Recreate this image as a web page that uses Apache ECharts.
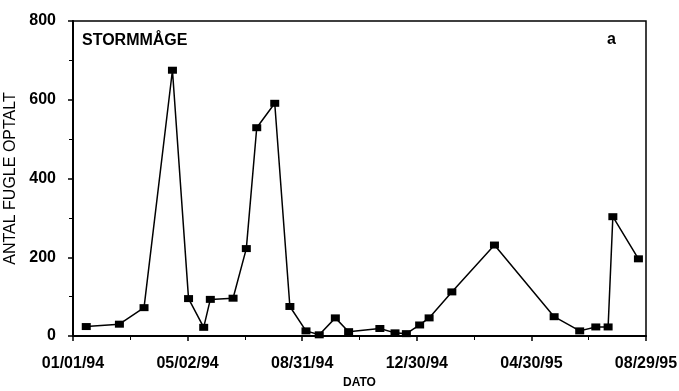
<!DOCTYPE html>
<html>
<head>
<meta charset="utf-8">
<script src="https://cdn.jsdelivr.net/npm/echarts@6/dist/echarts.min.js"></script>
<style>
html,body{margin:0;padding:0;background:#fff;}
#c{width:679px;height:391px;}
</style>
</head>
<body>
<div id="c"></div>
<script>
// Data
const dates = [
  '1994-01-15','1994-02-19','1994-03-17','1994-04-16','1994-05-03','1994-05-19','1994-05-26',
  '1994-06-19','1994-07-03','1994-07-14','1994-08-02','1994-08-18','1994-09-04','1994-09-18',
  '1994-10-05','1994-10-19','1994-11-21','1994-12-07','1994-12-19','1995-01-02','1995-01-12',
  '1995-02-05','1995-03-22','1995-05-24','1995-06-20','1995-07-07','1995-07-20','1995-07-25',
  '1995-08-21'
];
const counts = [
  24, 30, 72, 675, 95, 22, 93,
  96, 222, 529, 591, 75, 13, 3,
  46, 11, 19, 8, 6, 28, 46,
  112, 231, 49, 13, 23, 23, 303,
  196
];
const xTickLabels = ['01/01/94','05/02/94','08/31/94','12/30/94','04/30/95','08/29/95'];
const yTicks = [0, 200, 400, 600, 800];
const titleText = 'STORMMÅGE';
const panelLetter = 'a';
const xName = 'DATO';
const yName = 'ANTAL FUGLE OPTALT';

const startMs = Date.UTC(1994, 0, 1);
const DAY = 86400000;
function dayOffset(s) {
  const p = s.split('-').map(Number);
  return Math.round((Date.UTC(p[0], p[1] - 1, p[2]) - startMs) / DAY);
}
const tickStep = 121;
const seriesData = dates.map((d, i) => [dayOffset(d), counts[i]]);

const FONT = "'Liberation Sans', Arial, Helvetica, sans-serif";
const chart = echarts.init(document.getElementById('c'), null, {renderer: 'canvas'});
chart.setOption({
  animation: false,
  backgroundColor: '#fff',
  grid: {left: 73, right: 33, top: 21, bottom: 55, containLabel: false, outerBoundsMode: 'none',
         show: true, borderColor: '#000', borderWidth: 1.5},
  xAxis: {
    type: 'value',
    min: 0,
    max: tickStep * (xTickLabels.length - 1),
    interval: tickStep,
    name: xName,
    nameLocation: 'middle',
    nameGap: 40,
    nameTextStyle: {color: '#000', fontFamily: FONT, fontSize: 12, fontWeight: 'bold'},
    axisLine: {lineStyle: {color: '#000', width: 2}},
    axisTick: {show: true, length: 5, lineStyle: {color: '#000', width: 1.5}},
    minorTick: {show: true, splitNumber: 2, length: 4, lineStyle: {color: '#000', width: 1}},
    splitLine: {show: false},
    axisLabel: {
      color: '#000', fontFamily: FONT, fontSize: 16, fontWeight: 'bold', margin: 20,
      formatter: v => xTickLabels[Math.round(v / tickStep)] || ''
    }
  },
  yAxis: {
    type: 'value',
    min: yTicks[0],
    max: yTicks[yTicks.length - 1],
    interval: yTicks[1] - yTicks[0],
    name: yName,
    nameLocation: 'middle',
    nameGap: 48,
    nameTextStyle: {color: '#000', fontFamily: FONT, fontSize: 16},
    axisLine: {show: true, lineStyle: {color: '#000', width: 2}},
    axisTick: {show: true, length: 5, lineStyle: {color: '#000', width: 1.5}},
    minorTick: {show: true, splitNumber: 2, length: 4, lineStyle: {color: '#000', width: 1}},
    splitLine: {show: false},
    axisLabel: {color: '#000', fontFamily: FONT, fontSize: 16, fontWeight: 'bold', margin: 17}
  },
  graphic: [
    {type: 'text', left: 82, top: 33, style: {text: titleText, fill: '#000', font: "bold 16px " + FONT}},
    {type: 'text', left: 607, top: 32, style: {text: panelLetter, fill: '#000', font: "bold 16px " + FONT}}
  ],
  series: [{
    type: 'line',
    data: seriesData,
    symbol: 'rect',
    symbolSize: [9, 7],
    itemStyle: {color: '#000'},
    lineStyle: {color: '#000', width: 1.5}
  }]
});
</script>
</body>
</html>
